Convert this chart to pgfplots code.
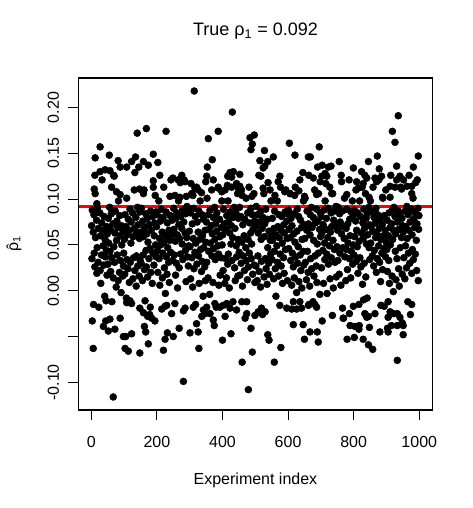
\documentclass[border=0pt]{standalone}
\usepackage{fontspec}
\setmainfont{Liberation Sans}
\usepackage{pgfplots}
\pgfplotsset{compat=1.18}

\begin{document}
\fontsize{12}{14}\selectfont
\begin{tikzpicture}
\path[use as bounding box] (-59.0pt,-73.5pt) rectangle (295.7pt,307.5pt);
\begin{axis}[
  scale only axis, width=265.2pt, height=249pt,
  at={(0,0)}, anchor=south west,
  xmin=-38.4, xmax=1039.6, ymin=-0.1302, ymax=0.2322,
  axis line style={line width=0.8pt},
  tick align=outside, tick pos=left, major tick length=7.7pt,
  every tick/.style={black, line width=0.8pt},
  xtick={0,200,400,600,800,1000}, xticklabels={0,200,400,600,800,1000},
  ytick={-0.10,-0.05,0,0.05,0.10,0.15,0.20},
  yticklabels={-0.10,,0.00,0.05,0.10,0.15,0.20},
  xticklabel style={anchor=center, yshift=-16.1pt},
  yticklabel style={anchor=center, xshift=-11.3pt, rotate=90},
  title={\fontsize{13.5}{16}\selectfont True ρ\textsubscript{1} = 0.092},
  title style={at={(axis description cs:0.5,1.1175)}, anchor=center},
  xlabel={Experiment index},
  xlabel style={at={(axis description cs:0.5,-0.2108)}, anchor=center},
  ylabel={\ooalign{ρ\cr\hidewidth ˆ\hidewidth\cr}\textsubscript{1}},
  ylabel style={at={(axis description cs:-0.1802,0.5)}, anchor=center, rotate=0},
]
% experiments inside the band
\addplot[only marks, mark=*, mark size=2.6pt, mark options={draw=none, fill=black}] coordinates {
(1,0.071) (2,0.035) (3,0.088) (6,0.064) (7,-0.015) (8,0.083) (9,0.041)
(11,0.026) (12,0.106) (13,0.058) (16,0.077) (17,0.019) (18,0.047) (19,0.090)
(21,0.031) (22,0.068) (23,-0.018) (26,0.085) (27,0.022) (28,0.060) (29,0.008)
(31,0.039) (32,0.074) (33,0.121) (36,0.049) (37,0.066) (38,0.028) (39,0.081)
(41,-0.006) (42,0.056) (43,0.037) (46,0.044) (47,0.070) (48,0.017) (49,0.062)
(51,0.029) (52,0.079) (53,0.052) (56,0.091) (57,0.043) (58,0.067) (59,0.021)
(61,0.084) (62,0.036) (63,-0.012) (66,0.073) (67,0.014) (68,0.126) (69,0.048)
(71,0.031) (72,0.063) (73,0.087) (76,0.004) (77,0.055) (78,0.076) (79,0.039)
(81,0.069) (82,0.011) (83,0.098) (86,0.020) (87,0.082) (88,0.060) (89,0.033)
(91,-0.002) (92,0.071) (93,0.050) (96,0.016) (97,0.065) (98,0.027) (99,0.041)
(101,0.056) (102,0.018) (103,0.083) (106,0.070) (107,-0.008) (108,0.101) (109,0.034)
(111,0.061) (112,0.024) (113,0.078) (116,0.009) (117,0.066) (118,0.089) (119,0.031)
(121,0.052) (122,0.075) (123,-0.014) (126,0.085) (127,0.013) (128,0.059) (129,0.036)
(131,0.110) (132,0.068) (133,0.022) (136,0.080) (137,0.005) (138,0.038) (139,0.063)
(141,0.091) (142,0.027) (143,0.072) (146,0.016) (147,0.057) (148,0.086) (149,0.033)
(151,0.064) (152,0.030) (153,0.090) (156,0.011) (157,0.076) (158,0.039) (159,0.059)
(161,0.110) (162,0.023) (163,0.069) (166,0.084) (167,0.044) (168,0.026) (169,0.062)
(171,0.079) (172,0.015) (173,0.053) (176,0.035) (177,0.072) (178,-0.026) (179,0.046)
(181,0.087) (182,0.020) (183,0.066) (186,0.008) (187,0.081) (188,0.041) (189,0.113)
(191,0.028) (192,0.060) (193,0.074) (196,0.050) (197,0.086) (198,0.037) (199,0.070)
(201,0.083) (202,0.044) (203,0.020) (206,0.098) (207,0.035) (208,0.057) (209,0.006)
(211,0.076) (212,0.050) (213,0.089) (216,0.064) (217,0.014) (218,0.041) (219,0.080)
(221,0.113) (222,0.053) (223,0.025) (226,-0.003) (227,0.060) (228,0.086) (229,0.037)
(231,0.018) (232,0.074) (233,0.047) (236,0.031) (237,0.066) (238,0.009) (239,0.055)
(241,0.082) (242,0.042) (243,0.121) (246,0.061) (247,0.077) (248,0.033) (249,0.123)
(251,0.090) (252,0.067) (253,0.039) (256,0.054) (257,0.017) (258,0.079) (259,0.030)
(261,0.085) (262,0.061) (263,0.003) (266,0.098) (267,0.072) (268,0.025) (269,0.057)
(271,0.118) (272,0.040) (273,0.081) (276,0.068) (277,0.051) (278,0.088) (279,0.034)
(281,-0.022) (282,0.075) (283,0.121) (286,0.063) (287,0.044) (288,0.084) (289,0.010)
(291,0.058) (292,0.092) (293,0.037) (296,0.027) (297,0.049) (298,0.087) (299,0.065)
(301,0.048) (302,0.085) (303,0.013) (306,0.106) (307,0.036) (308,0.073) (309,0.004)
(311,0.057) (312,0.090) (313,0.024) (316,0.042) (317,0.081) (318,-0.015) (319,0.052)
(321,0.113) (322,0.029) (323,0.075) (326,0.064) (327,0.038) (328,0.087) (329,0.008)
(331,0.056) (332,0.098) (333,0.045) (336,0.021) (337,0.083) (338,0.032) (339,0.060)
(341,-0.006) (342,0.078) (343,0.047) (346,0.026) (347,0.066) (348,0.011) (349,0.053)
(351,0.075) (352,0.031) (353,0.101) (356,0.014) (357,0.083) (358,0.043) (359,0.067)
(361,-0.004) (362,0.088) (363,0.052) (366,0.071) (367,0.110) (368,0.038) (369,0.062)
(371,0.009) (372,0.080) (373,0.046) (376,0.091) (377,0.056) (378,0.034) (379,0.073)
(381,-0.018) (382,0.065) (383,0.085) (386,0.049) (387,0.113) (388,0.040) (389,0.006)
(391,0.078) (392,0.059) (393,0.017) (396,0.036) (397,0.069) (398,0.098) (399,0.050)
(401,0.061) (402,0.022) (403,0.089) (406,0.073) (407,0.008) (408,0.110) (409,0.035)
(411,0.067) (412,0.014) (413,0.082) (416,0.029) (417,0.098) (418,0.040) (419,0.076)
(421,0.003) (422,0.063) (423,0.086) (426,0.051) (427,0.071) (428,0.113) (429,0.033)
(431,0.058) (432,-0.012) (433,0.080) (436,0.091) (437,0.025) (438,0.068) (439,0.011)
(441,0.085) (442,0.049) (443,0.037) (446,0.106) (447,0.016) (448,0.056) (449,0.079)
(451,0.042) (452,0.091) (453,0.017) (456,0.081) (457,0.030) (458,0.110) (459,0.053)
(461,0.005) (462,0.072) (463,0.038) (466,0.060) (467,0.022) (468,0.078) (469,-0.030)
(471,0.047) (472,0.101) (473,0.033) (476,0.012) (477,0.085) (478,0.056) (479,0.026)
(481,0.113) (482,0.041) (483,0.074) (486,0.063) (487,0.090) (488,0.035) (489,0.051)
(491,0.083) (492,0.018) (493,0.067) (496,0.106) (497,0.028) (498,0.076) (499,0.009)
(501,0.070) (502,0.027) (503,0.092) (506,0.011) (507,0.083) (508,0.038) (509,0.063)
(511,0.126) (512,0.021) (513,0.075) (516,0.004) (517,0.087) (518,0.056) (519,0.032)
(521,0.068) (522,-0.026) (523,0.080) (526,0.106) (527,0.015) (528,0.059) (529,0.073)
(531,0.035) (532,0.089) (533,0.024) (536,0.007) (537,0.078) (538,0.047) (539,0.118)
(541,0.030) (542,0.065) (543,0.018) (546,0.055) (547,0.040) (548,0.098) (549,0.061)
(551,0.034) (552,0.079) (553,0.055) (556,0.013) (557,0.068) (558,0.043) (559,0.087)
(561,0.024) (562,0.061) (563,-0.006) (566,0.049) (567,0.098) (568,0.031) (569,0.070)
(571,0.016) (572,0.083) (573,0.058) (576,0.040) (577,0.113) (578,0.066) (579,0.027)
(581,0.081) (582,0.052) (583,0.008) (586,0.036) (587,0.072) (588,0.019) (589,0.063)
(591,0.086) (592,0.045) (593,0.110) (596,0.076) (597,0.057) (598,0.011) (599,0.084)
(601,0.088) (602,0.046) (603,0.067) (606,0.106) (607,0.058) (608,0.033) (609,0.079)
(611,0.006) (612,0.071) (613,0.041) (616,0.026) (617,0.062) (618,0.084) (619,0.014)
(621,0.053) (622,0.113) (623,0.037) (626,-0.002) (627,0.065) (628,0.089) (629,0.030)
(631,0.048) (632,0.081) (633,0.010) (636,0.121) (637,0.039) (638,0.077) (639,0.022)
(641,0.069) (642,0.003) (643,0.056) (646,0.043) (647,0.098) (648,0.028) (649,0.072)
(651,0.057) (652,0.101) (653,0.031) (656,0.012) (657,0.066) (658,0.087) (659,0.043)
(661,0.020) (662,0.073) (663,0.126) (666,0.005) (667,0.061) (668,0.083) (669,0.035)
(671,0.091) (672,0.024) (673,0.069) (676,-0.012) (677,0.080) (678,0.055) (679,0.016)
(681,0.110) (682,0.038) (683,0.074) (686,0.027) (687,0.089) (688,0.009) (689,0.051)
(691,0.076) (692,0.041) (693,0.106) (696,0.067) (697,-0.004) (698,0.085) (699,0.059)
(701,0.081) (702,0.025) (703,0.063) (706,0.044) (707,0.072) (708,0.008) (709,0.088)
(711,0.052) (712,0.034) (713,0.098) (716,0.067) (717,0.079) (718,0.040) (719,-0.003)
(721,0.058) (722,0.090) (723,0.029) (726,0.049) (727,0.113) (728,0.013) (729,0.064)
(731,0.085) (732,0.036) (733,0.070) (736,0.106) (737,0.055) (738,0.003) (739,0.077)
(741,0.045) (742,0.087) (743,0.031) (746,0.092) (747,0.015) (748,0.071) (749,0.048)
(751,0.066) (752,0.033) (753,0.091) (756,0.018) (757,0.084) (758,0.041) (759,0.075)
(761,0.006) (762,0.126) (763,0.062) (766,0.087) (767,0.047) (768,0.070) (769,-0.030)
(771,0.057) (772,0.101) (773,0.037) (776,0.011) (777,0.068) (778,0.045) (779,0.089)
(781,0.023) (782,0.073) (783,0.052) (786,0.121) (787,0.035) (788,0.078) (789,0.060)
(791,0.014) (792,0.086) (793,0.043) (796,0.098) (797,0.029) (798,0.050) (799,0.082)
(801,0.039) (802,0.088) (803,0.059) (806,0.076) (807,0.110) (808,0.032) (809,0.066)
(811,0.048) (812,0.085) (813,0.019) (816,-0.015) (817,0.054) (818,0.098) (819,0.036)
(821,0.081) (822,0.026) (823,0.063) (826,0.113) (827,0.007) (828,0.074) (829,0.057)
(831,0.089) (832,0.030) (833,0.068) (836,0.106) (837,0.015) (838,0.079) (839,0.051)
(841,-0.008) (842,0.084) (843,0.061) (846,0.091) (847,0.047) (848,0.072) (849,0.034)
(851,0.098) (852,0.052) (853,0.070) (856,0.086) (857,0.038) (858,0.065) (859,0.113)
(861,0.027) (862,0.080) (863,0.044) (866,0.074) (867,0.058) (868,0.090) (869,0.020)
(871,0.062) (872,0.035) (873,0.083) (876,0.049) (877,0.121) (878,0.068) (879,0.031)
(881,0.077) (882,0.010) (883,0.056) (886,0.041) (887,0.072) (888,0.023) (889,0.101)
(891,0.060) (892,0.046) (893,0.082) (896,0.066) (897,0.037) (898,0.110) (899,0.053)
(901,0.045) (902,0.077) (903,0.021) (906,0.060) (907,0.033) (908,0.085) (909,0.008)
(911,0.069) (912,0.050) (913,0.126) (916,0.073) (917,0.016) (918,0.088) (919,0.056)
(921,-0.001) (922,0.066) (923,0.091) (926,0.081) (927,0.043) (928,0.062) (929,0.012)
(931,0.121) (932,0.035) (933,0.075) (936,0.087) (937,0.024) (938,0.067) (939,0.005)
(941,0.083) (942,0.047) (943,0.113) (946,0.058) (947,0.079) (948,0.018) (949,0.071)
(951,0.064) (952,0.121) (953,0.036) (956,0.013) (957,0.087) (958,0.049) (959,0.070)
(961,0.025) (962,0.092) (963,0.057) (966,0.083) (967,0.041) (968,0.066) (969,0.126)
(971,0.030) (972,0.075) (973,-0.026) (976,0.089) (977,0.019) (978,0.061) (979,0.045)
(981,0.101) (982,0.034) (983,0.078) (986,0.069) (987,0.085) (988,0.040) (989,0.118)
(991,0.055) (992,0.022) (993,0.073) (996,0.090) (997,0.011) (998,0.067) (999,0.082)
};
% experiments above the band
\addplot[only marks, mark=*, mark size=2.6pt, mark options={draw=none, fill=black}] coordinates {
(314,0.218) (168,0.177) (140,0.172) (228,0.174) (27,0.157) (55,0.148) (12,0.145) (189,0.149)
(82,0.142) (123,0.141) (135,0.146) (159,0.141) (203,0.140) (174,0.137) (88,0.135) (108,0.135)
(145,0.135) (133,0.129) (11,0.126) (27,0.130) (42,0.132) (57,0.131) (70,0.125) (209,0.126)
(189,0.120) (276,0.126) (286,0.119) (265,0.121) (304,0.117) (316,0.112) (9,0.111) (62,0.113)
(77,0.108) (88,0.105) (147,0.111) (159,0.106) (195,0.104) (240,0.103) (255,0.104) (270,0.102)
(290,0.103) (310,0.104) (17,0.095)
(430,0.195) (387,0.174) (357,0.166) (484,0.167) (497,0.170) (491,0.160) (487,0.154) (528,0.153)
(604,0.161) (621,0.148) (662,0.146) (555,0.146) (538,0.141) (514,0.142) (524,0.134) (529,0.136)
(369,0.143) (354,0.135) (645,0.129) (423,0.129) (433,0.130) (416,0.125) (453,0.127) (428,0.124)
(352,0.125) (349,0.119) (372,0.121) (517,0.125) (575,0.125) (570,0.119) (443,0.117) (453,0.114)
(448,0.112) (415,0.115) (387,0.112) (398,0.108) (326,0.110) (336,0.107) (524,0.112) (545,0.110)
(590,0.108) (606,0.106) (633,0.109) (460,0.104) (490,0.103) (560,0.104) (620,0.104) (650,0.103)
(936,0.191) (918,0.174) (926,0.162) (695,0.157) (668,0.146) (756,0.141) (845,0.141) (872,0.147)
(997,0.147) (690,0.135) (704,0.137) (723,0.135) (731,0.136) (799,0.134) (878,0.133) (931,0.136)
(982,0.135) (713,0.128) (718,0.125) (703,0.125) (677,0.123) (698,0.119) (715,0.117) (824,0.130)
(834,0.126) (840,0.123) (865,0.123) (885,0.125) (870,0.119) (941,0.125) (994,0.121) (763,0.119)
(809,0.119) (829,0.117) (814,0.112) (911,0.114) (926,0.113) (946,0.111) (962,0.114) (977,0.114)
(687,0.105) (733,0.106) (779,0.105) (847,0.102) (888,0.102) (911,0.102) (977,0.106)
};
% experiments below the band
\addplot[only marks, mark=*, mark size=2.6pt, mark options={draw=none, fill=black}] coordinates {
(45,-0.011) (108,-0.013) (118,-0.011) (164,-0.011) (180,-0.018) (148,-0.019) (159,-0.024) (172,-0.028)
(184,-0.030) (194,-0.033) (215,-0.020) (225,-0.017) (230,-0.016) (255,-0.014) (245,-0.025) (286,-0.019)
(311,-0.018) (3,-0.033) (44,-0.033) (57,-0.031) (37,-0.039) (52,-0.044) (72,-0.042) (88,-0.030)
(162,-0.039) (166,-0.045) (98,-0.050) (105,-0.050) (123,-0.047) (232,-0.046) (225,-0.053) (250,-0.050)
(268,-0.041) (301,-0.046) (321,-0.036) (326,-0.045) (174,-0.058) (6,-0.063) (103,-0.063) (113,-0.066)
(148,-0.068) (220,-0.065) (328,-0.063) (281,-0.099) (67,-0.116)
(479,-0.108) (460,-0.078) (558,-0.078) (491,-0.067) (578,-0.062) (400,-0.054) (426,-0.047) (487,-0.041)
(538,-0.048) (542,-0.054) (372,-0.032) (375,-0.038) (408,-0.028) (616,-0.037) (646,-0.037) (650,-0.053)
(667,-0.045) (337,-0.028) (342,-0.021) (352,-0.018) (362,-0.025) (347,-0.025) (377,-0.014) (392,-0.018)
(402,-0.016) (413,-0.014) (423,-0.019) (443,-0.021) (474,-0.025) (499,-0.027) (509,-0.023) (530,-0.023)
(519,-0.019) (459,-0.012) (474,-0.012) (575,-0.016) (596,-0.019) (611,-0.020) (626,-0.020) (641,-0.019)
(616,-0.012) (636,-0.012) (662,-0.016)
(933,-0.076) (845,-0.059) (858,-0.064) (829,-0.053) (802,-0.051) (780,-0.053) (692,-0.056) (689,-0.045)
(704,-0.033) (735,-0.027) (766,-0.019) (768,-0.030) (787,-0.025) (799,-0.017) (789,-0.038) (804,-0.039)
(817,-0.038) (816,-0.042) (834,-0.025) (845,-0.028) (865,-0.025) (840,-0.029) (830,-0.010) (848,-0.040)
(880,-0.045) (905,-0.045) (903,-0.041) (893,-0.017) (911,-0.023) (905,-0.029) (921,-0.025) (933,-0.025)
(941,-0.029) (951,-0.038) (933,-0.038) (915,-0.038) (948,-0.035) (951,-0.048) (905,-0.012) (965,-0.012)
(977,-0.015) (664,-0.015) (682,-0.015) (687,-0.018) (883,-0.016)
};
% true value
\addplot[red, line width=2.5pt] coordinates {(-38.4,0.092) (1039.6,0.092)};
\end{axis}
\end{tikzpicture}
\end{document}
